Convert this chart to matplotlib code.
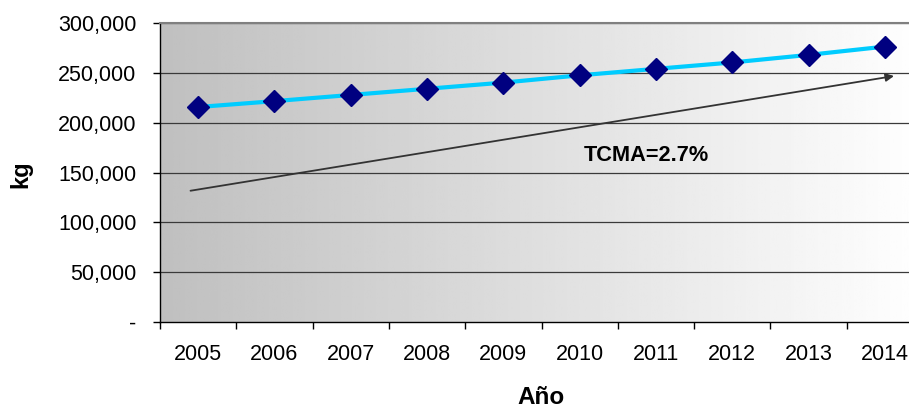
import numpy as np
import matplotlib.pyplot as plt
from matplotlib.ticker import FuncFormatter

plt.rcParams["font.family"] = ["Liberation Sans", "DejaVu Sans"]

years = ["2005", "2006", "2007", "2008", "2009", "2010", "2011", "2012", "2013", "2014"]
kg = [215700, 221600, 227800, 234000, 240200, 247500, 254000, 260400, 268000, 276300]

# trend arrow (category index, kg) and its label
arrow_start = (-0.1, 131700)
arrow_end = (9.12, 246800)
tcma_label = "TCMA=2.7%"
tcma_pos = (5.87, 167000)

fig = plt.figure(figsize=(9.09, 4.08), dpi=100)
ax = fig.add_axes([160 / 909, 86 / 408, 763 / 909, 299 / 408])

x = np.arange(len(years))
ax.set_xlim(-0.5, len(years) - 0.5)
ax.set_ylim(0, 300000)

# grey-to-white horizontal gradient behind the data
grad = np.linspace(0.75, 1.0, 256).reshape(1, -1)
ax.imshow(grad, cmap="gray", vmin=0, vmax=1, aspect="auto",
          extent=[0, 1, 0, 1], transform=ax.transAxes, zorder=0)

for y in range(50000, 300001, 50000):
    ax.axhline(y, color="#3a3a3a", linewidth=0.9, zorder=1)

ax.plot(x, kg, color="#00ccff", linewidth=3, zorder=3,
        marker="D", markersize=11, markerfacecolor="#000080",
        markeredgecolor="#000080")

ax.annotate("", xy=arrow_end, xytext=arrow_start,
            arrowprops=dict(arrowstyle="-|>", color="#333333", lw=1.3,
                            mutation_scale=12, shrinkA=0, shrinkB=0),
            zorder=2)
ax.text(*tcma_pos, tcma_label, fontsize=15.7, fontweight="bold",
        ha="center", va="center", zorder=4)

ax.set_yticks(range(0, 300001, 50000))
ax.yaxis.set_major_formatter(FuncFormatter(lambda v, p: "-" if v == 0 else f"{int(v):,}"))
ax.set_xticks(x)
ax.set_xticklabels(years)
ax.set_xticks(np.arange(-0.5, len(years), 1), minor=True)
ax.tick_params(axis="x", which="major", length=0, pad=16, labelsize=15.5)
ax.tick_params(axis="x", which="minor", length=5, width=1, direction="out")
ax.tick_params(axis="y", length=5, width=1, direction="out", labelsize=15.5, pad=12)

for side in ("left", "bottom"):
    ax.spines[side].set_color("black")
    ax.spines[side].set_linewidth(1)
ax.spines["top"].set_color("#808080")
ax.spines["top"].set_linewidth(1.5)
ax.spines["right"].set_visible(False)

fig.text(21 / 909, 1 - 174 / 408, "kg", rotation=90, fontsize=17, fontweight="bold",
         ha="center", va="center")
fig.text(541 / 909, 1 - 397 / 408, "Año", fontsize=17.5, fontweight="bold",
         ha="center", va="center")

fig.savefig("out.png", dpi=100)
